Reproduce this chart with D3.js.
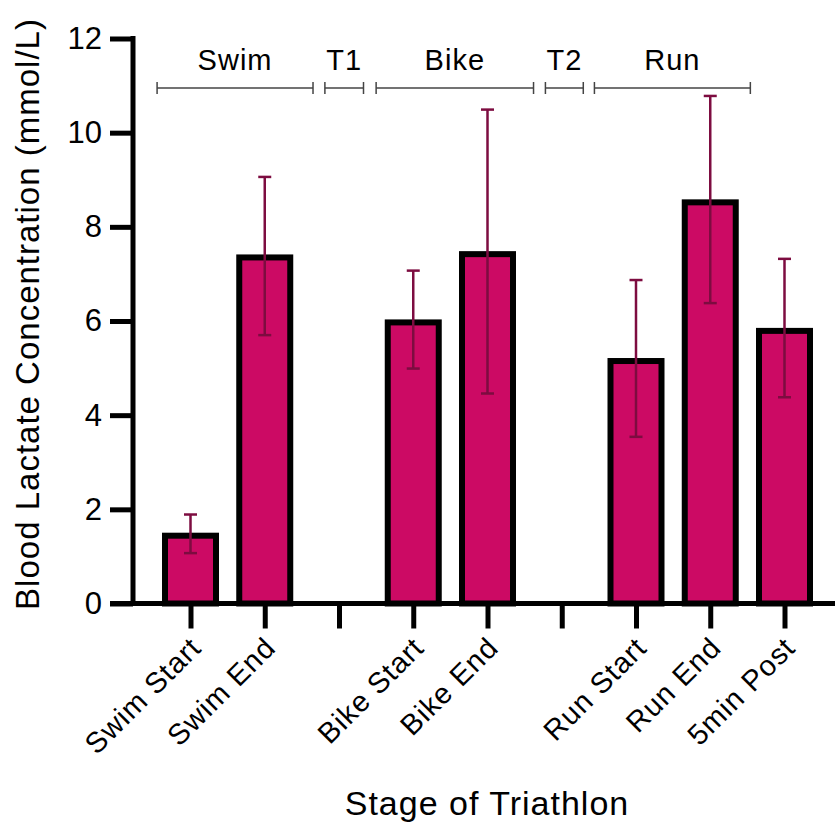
<!DOCTYPE html>
<meta charset="utf-8">
<script src="https://d3js.org/d3.v7.min.js"></script>
<style>
  body { margin: 0; background: #fff; }
  text { font-family: "Liberation Sans", Arial, sans-serif; fill: #000; }
</style>
<div id="chart"></div>
<script>

// data
var stages = ["Swim Start", "Swim End", "", "Bike Start", "Bike End", "", "Run Start", "Run End", "5min Post"];
var barStages = ["Swim Start", "Swim End", "Bike Start", "Bike End", "Run Start", "Run End", "5min Post"];
var means = [1.44, 7.35, 5.97, 7.42, 5.15, 8.52, 5.79];
var errLow = [1.07, 5.70, 4.99, 4.46, 3.54, 6.38, 4.38];
var errHigh = [1.89, 9.06, 7.07, 10.49, 6.87, 10.78, 7.32];
var yTicks = [0, 2, 4, 6, 8, 10, 12];

// phase brackets on top (start / end in slot units)
var phases = ["Swim", "T1", "Bike", "T2", "Run"];
var phaseStart = [-0.45, 1.81, 2.50, 4.78, 5.44];
var phaseEnd = [1.65, 2.33, 4.62, 5.29, 7.54];

var W = 835, H = 825;
var barColor = "#cc0a64", errColor = "#7d0c40";

var svg = d3.select("#chart").append("svg")
  .attr("width", W)
  .attr("height", H);

// x: slot index -> pixel
var x = d3.scaleLinear().domain([0, 8]).range([190.5, 784.5]);
var y = d3.scaleLinear().domain([0, 12]).range([603.5, 38.5]);
var barW = 51;

// bars
svg.selectAll("rect.bar")
  .data(barStages)
  .enter()
  .append("rect")
    .attr("class", "bar")
    .attr("x", function(d) { return x(stages.indexOf(d)) - barW / 2; })
    .attr("width", barW)
    .attr("y", function(d, i) { return y(means[i]); })
    .attr("height", function(d, i) { return y(0) - y(means[i]); })
    .style("fill", barColor)
    .style("stroke", "#000")
    .style("stroke-width", 6);

// error bars
var err = svg.selectAll("g.err")
  .data(barStages)
  .enter()
  .append("g")
    .attr("class", "err")
    .attr("transform", function(d) { return "translate(" + x(stages.indexOf(d)) + ",0)"; })
    .style("stroke", errColor)
    .style("stroke-width", 2.5);

err.append("line")
  .attr("y1", function(d, i) { return y(errLow[i]); })
  .attr("y2", function(d, i) { return y(errHigh[i]); });
err.append("line")
  .attr("x1", -6.5).attr("x2", 6.5)
  .attr("y1", function(d, i) { return y(errHigh[i]); })
  .attr("y2", function(d, i) { return y(errHigh[i]); });
err.append("line")
  .attr("x1", -6.5).attr("x2", 6.5)
  .attr("y1", function(d, i) { return y(errLow[i]); })
  .attr("y2", function(d, i) { return y(errLow[i]); });

// x axis
var xAxis = svg.append("g")
  .attr("transform", "translate(0," + y(0) + ")")
  .call(d3.axisBottom(x)
    .tickValues(d3.range(stages.length))
    .tickFormat(function(i) { return stages[i]; })
    .tickSize(25)
    .tickSizeOuter(0));
xAxis.select(".domain").remove();
xAxis.append("line")
  .attr("x1", 110).attr("x2", W)
  .style("stroke", "#000").style("stroke-width", 5);
xAxis.selectAll(".tick line").style("stroke", "#000").style("stroke-width", 5);
xAxis.selectAll(".tick text")
  .style("font-size", "29px")
  .style("letter-spacing", "1px")
  .style("text-anchor", "end")
  .attr("dy", null)
  .attr("y", null)
  .attr("transform", "translate(12,46) rotate(-45)");

// y axis
var yAxis = svg.append("g")
  .attr("transform", "translate(133,0)")
  .call(d3.axisLeft(y)
    .tickValues(yTicks)
    .tickSize(23)
    .tickSizeOuter(0)
    .tickPadding(8));
yAxis.select(".domain")
  .attr("d", "M0," + (y(12) - 2.5) + "V" + (y(0) + 2.5))
  .style("stroke", "#000").style("stroke-width", 5);
yAxis.selectAll(".tick line").style("stroke", "#000").style("stroke-width", 5);
yAxis.selectAll(".tick text").style("font-size", "31px");

// phase brackets
var ph = svg.selectAll("g.phase")
  .data(phases)
  .enter()
  .append("g")
    .attr("class", "phase");
ph.append("line")
  .attr("x1", function(d, i) { return x(phaseStart[i]); })
  .attr("x2", function(d, i) { return x(phaseEnd[i]); })
  .attr("y1", 88).attr("y2", 88);
ph.append("line")
  .attr("x1", function(d, i) { return x(phaseStart[i]); })
  .attr("x2", function(d, i) { return x(phaseStart[i]); })
  .attr("y1", 82).attr("y2", 94);
ph.append("line")
  .attr("x1", function(d, i) { return x(phaseEnd[i]); })
  .attr("x2", function(d, i) { return x(phaseEnd[i]); })
  .attr("y1", 82).attr("y2", 94);
ph.selectAll("line").style("stroke", "#444").style("stroke-width", 1.5);
ph.append("text")
  .attr("x", function(d, i) { return x((phaseStart[i] + phaseEnd[i]) / 2); })
  .attr("y", 70)
  .style("text-anchor", "middle")
  .style("font-size", "29px")
  .style("letter-spacing", "1px")
  .text(function(d) { return d; });

// axis titles
svg.append("text")
  .attr("transform", "translate(39,314) rotate(-90)")
  .style("text-anchor", "middle")
  .style("font-size", "33px")
  .style("letter-spacing", "1px")
  .text("Blood Lactate Concentration (mmol/L)");

svg.append("text")
  .attr("x", 487)
  .attr("y", 815)
  .style("text-anchor", "middle")
  .style("font-size", "34px")
  .style("letter-spacing", "1px")
  .text("Stage of Triathlon");

</script>
